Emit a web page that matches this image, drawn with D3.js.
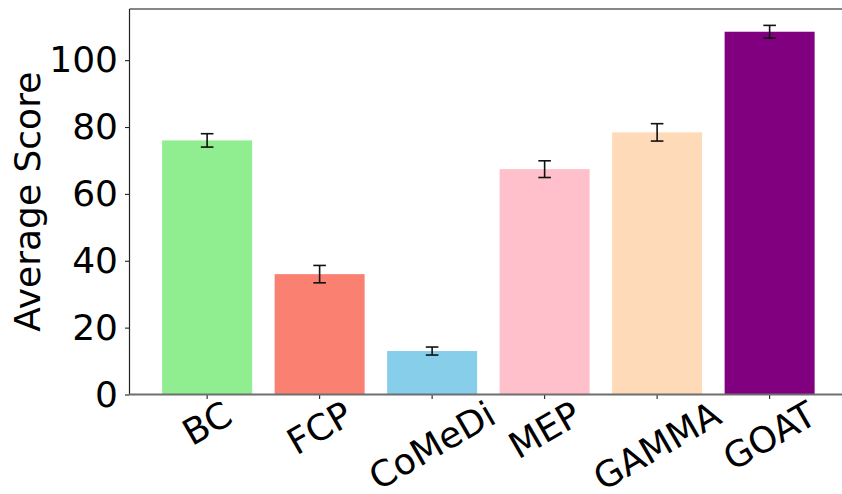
<!DOCTYPE html>
<html>
<head>
<meta charset="utf-8">
<script src="https://cdn.jsdelivr.net/npm/d3@7/dist/d3.min.js"></script>
<style>
  html, body { margin: 0; padding: 0; background: #fff; }
  svg { display: block; font-family: "DejaVu Sans", sans-serif; }
</style>
</head>
<body>
<svg id="chart" width="842" height="494"></svg>
<script>
// Average score per method, with the spread shown as error bars
const methods = ["BC", "FCP", "CoMeDi", "MEP", "GAMMA", "GOAT"];
const scores = [76.0, 36.0, 13.0, 67.4, 78.4, 108.5];
const errors = [2.0, 2.6, 1.2, 2.5, 2.6, 1.9];
const barColors = ["#90EE90", "#FA8072", "#87CEEB", "#FFC0CB", "#FFDAB9", "#800080"];
const yTicks = [0, 20, 40, 60, 80, 100];

const svg = d3.select("#chart");
const plotLeft = 129.5, plotTop = 9, plotBottom = 394.5;
const step = 112.5;
const plotRight = plotLeft + step * (methods.length - 0.2 + 2 * 0.29);
const fs = 36;

const x = d3.scaleBand()
  .domain(methods)
  .range([plotLeft, plotRight])
  .paddingInner(0.2)
  .paddingOuter(0.29);

const y = d3.scaleLinear()
  .domain([0, 115.3])
  .range([plotBottom, plotTop]);

// bars
svg.append("g")
  .selectAll("rect")
  .data(methods)
  .join("rect")
  .attr("x", d => x(d))
  .attr("width", x.bandwidth())
  .attr("y", (d, i) => y(scores[i]))
  .attr("height", (d, i) => y(0) - y(scores[i]))
  .attr("fill", (d, i) => barColors[i]);

// error bars with caps
const cap = 6.3;
const eb = svg.append("g").attr("stroke", "#111").attr("stroke-width", 1.6);
methods.forEach((m, i) => {
  const cx = x(m) + x.bandwidth() / 2;
  const y1 = y(scores[i] + errors[i]), y0 = y(scores[i] - errors[i]);
  eb.append("line").attr("x1", cx).attr("x2", cx).attr("y1", y1).attr("y2", y0);
  eb.append("line").attr("x1", cx - cap).attr("x2", cx + cap).attr("y1", y1).attr("y2", y1);
  eb.append("line").attr("x1", cx - cap).attr("x2", cx + cap).attr("y1", y0).attr("y2", y0);
});

// y axis
const yAxis = svg.append("g")
  .attr("transform", `translate(${plotLeft},0)`)
  .call(d3.axisLeft(y).tickValues(yTicks).tickSize(4.5).tickPadding(7).tickFormat(d3.format("d")));
yAxis.select(".domain").remove();
yAxis.selectAll(".tick line").attr("stroke", "#222").attr("stroke-width", 1.1);
yAxis.selectAll(".tick text")
  .attr("fill", "#000")
  .style("font-size", fs + "px")
  .style("font-family", "DejaVu Sans");

// x axis ticks
const xAxis = svg.append("g")
  .attr("transform", `translate(0,${plotBottom})`)
  .call(d3.axisBottom(x).tickSize(4.5).tickFormat(""));
xAxis.select(".domain").remove();
xAxis.selectAll(".tick line").attr("stroke", "#222").attr("stroke-width", 1.1);

// rotated category labels, centred under each tick
const lineH = 1.0 * fs, ang = 30 * Math.PI / 180;
const labelTop = plotBottom + 1;
const labels = svg.append("g")
  .style("font-size", fs + "px")
  .style("font-family", "DejaVu Sans");
methods.forEach(m => {
  const cx = x(m) + x.bandwidth() / 2;
  const t = labels.append("text")
    .attr("text-anchor", "middle")
    .attr("dy", "0.346em")
    .attr("fill", "#000")
    .text(m);
  const w = t.node().getComputedTextLength();
  const hRot = w * Math.sin(ang) + lineH * Math.cos(ang);
  const cy = labelTop + hRot / 2;
  t.attr("transform", `translate(${cx},${cy}) rotate(-30)`);
});

// spines
svg.append("line").attr("x1", plotLeft).attr("x2", plotRight).attr("y1", plotTop).attr("y2", plotTop)
  .attr("stroke", "#111").attr("stroke-width", 1.2);
svg.append("line").attr("x1", plotLeft).attr("x2", plotLeft).attr("y1", plotTop).attr("y2", plotBottom)
  .attr("stroke", "#222").attr("stroke-width", 1.2);
svg.append("line").attr("x1", plotLeft).attr("x2", plotRight).attr("y1", plotBottom).attr("y2", plotBottom)
  .attr("stroke", "#6e6e6e").attr("stroke-width", 1.8);

// y axis title
svg.append("text")
  .attr("transform", `translate(40,${(plotTop + plotBottom) / 2}) rotate(-90)`)
  .attr("text-anchor", "middle")
  .style("font-size", fs + "px")
  .style("font-family", "DejaVu Sans")
  .attr("fill", "#000")
  .text("Average Score");
</script>
</body>
</html>
